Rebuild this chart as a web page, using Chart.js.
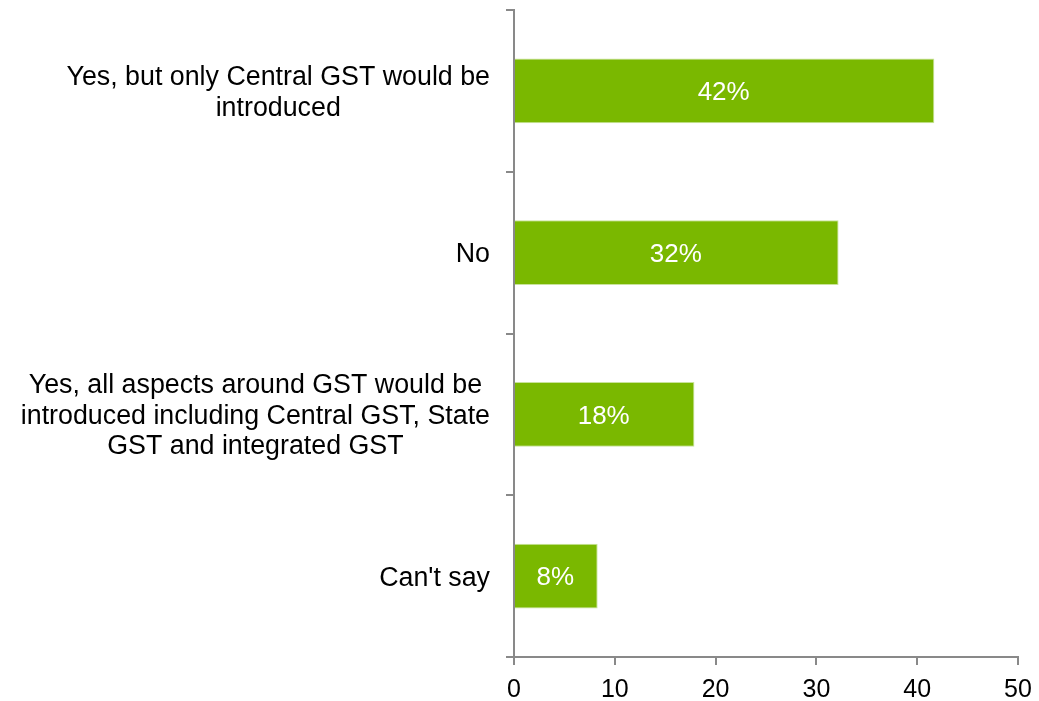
<!DOCTYPE html>
<html>
<head>
<meta charset="utf-8">
<script src="https://cdn.jsdelivr.net/npm/chart.js@4/dist/chart.umd.min.js"></script>
<style>
  html, body { margin: 0; padding: 0; background: #ffffff; }
  #wrap { width: 1039px; height: 701px; position: relative; }
</style>
</head>
<body>
<div id="wrap"><canvas id="c" width="1039" height="701"></canvas></div>
<script>
const categories = [
  ["Yes, but only Central GST would be", "introduced"],
  ["No"],
  ["Yes, all aspects around GST would be", "introduced including Central GST, State", "GST and integrated GST"],
  ["Can't say"]
];
const values = [41.7, 32.2, 17.9, 8.3];
const valueLabels = ["42%", "32%", "18%", "8%"];
const xTicks = [0, 10, 20, 30, 40, 50];

const FONT = "'Liberation Sans', Arial, sans-serif";
const AXIS = "#898989";
const BAR = "#7AB800";

const categoryLabelPlugin = {
  id: 'categoryLabels',
  afterDraw(chart) {
    const ctx = chart.ctx;
    const y = chart.scales.y;
    const right = chart.chartArea.left - 24;
    const lh = 30.5;
    ctx.save();
    ctx.font = "26.8px " + FONT;
    ctx.fillStyle = "#000000";
    ctx.textAlign = 'center';
    ctx.textBaseline = 'middle';
    categories.forEach((lines, i) => {
      const cy = y.getPixelForValue(i) + 2;
      let maxW = 0;
      lines.forEach(l => { maxW = Math.max(maxW, ctx.measureText(l).width); });
      const cx = right - maxW / 2;
      const startY = cy - (lines.length - 1) * lh / 2;
      lines.forEach((l, k) => ctx.fillText(l, cx, startY + k * lh));
    });
    ctx.restore();
  }
};

const valueLabelPlugin = {
  id: 'valueLabels',
  afterDatasetsDraw(chart) {
    const ctx = chart.ctx;
    const meta = chart.getDatasetMeta(0);
    ctx.save();
    ctx.font = "26px " + FONT;
    ctx.fillStyle = "#ffffff";
    ctx.textAlign = 'center';
    ctx.textBaseline = 'middle';
    meta.data.forEach((bar, i) => {
      const cx = (bar.x + bar.base) / 2 - 1;
      ctx.fillText(valueLabels[i], cx, bar.y + 2);
    });
    ctx.restore();
  }
};

new Chart(document.getElementById('c'), {
  type: 'bar',
  data: {
    labels: categories.map(l => l.join(' ')),
    datasets: [{
      data: values,
      backgroundColor: BAR,
      borderColor: '#c9e39b',
      borderWidth: 1,
      borderSkipped: 'start',
      categoryPercentage: 1.0,
      barPercentage: 0.4
    }]
  },
  options: {
    indexAxis: 'y',
    responsive: false,
    animation: false,
    devicePixelRatio: 1,
    layout: { autoPadding: false, padding: { top: 10, right: 21, bottom: 0, left: 0 } },
    plugins: {
      legend: { display: false },
      tooltip: { enabled: false }
    },
    scales: {
      x: {
        type: 'linear',
        min: 0,
        max: 50,
        afterBuildTicks(scale) { scale.ticks = xTicks.map(v => ({ value: v })); },
        ticks: {
          font: { family: FONT, size: 25 },
          color: '#000000',
          padding: 10,
          maxRotation: 0
        },
        grid: {
          drawOnChartArea: false,
          drawTicks: true,
          tickLength: 8,
          color: AXIS,
          lineWidth: 2
        },
        border: { display: true, color: AXIS, width: 2 },
        afterFit(scale) {
          scale.height = 44;
          scale.paddingLeft = 0;
          scale.paddingRight = 0;
          scale.paddingTop = 0;
          scale.paddingBottom = 0;
        }
      },
      y: {
        type: 'category',
        offset: true,
        ticks: { display: false },
        grid: {
          offset: true,
          drawOnChartArea: false,
          drawTicks: true,
          tickLength: 8,
          color: AXIS,
          lineWidth: 2
        },
        border: { display: true, color: AXIS, width: 2 },
        afterFit(scale) {
          scale.width = 514;
          scale.paddingTop = 0;
          scale.paddingBottom = 0;
        }
      }
    }
  },
  plugins: [categoryLabelPlugin, valueLabelPlugin]
});
</script>
</body>
</html>
